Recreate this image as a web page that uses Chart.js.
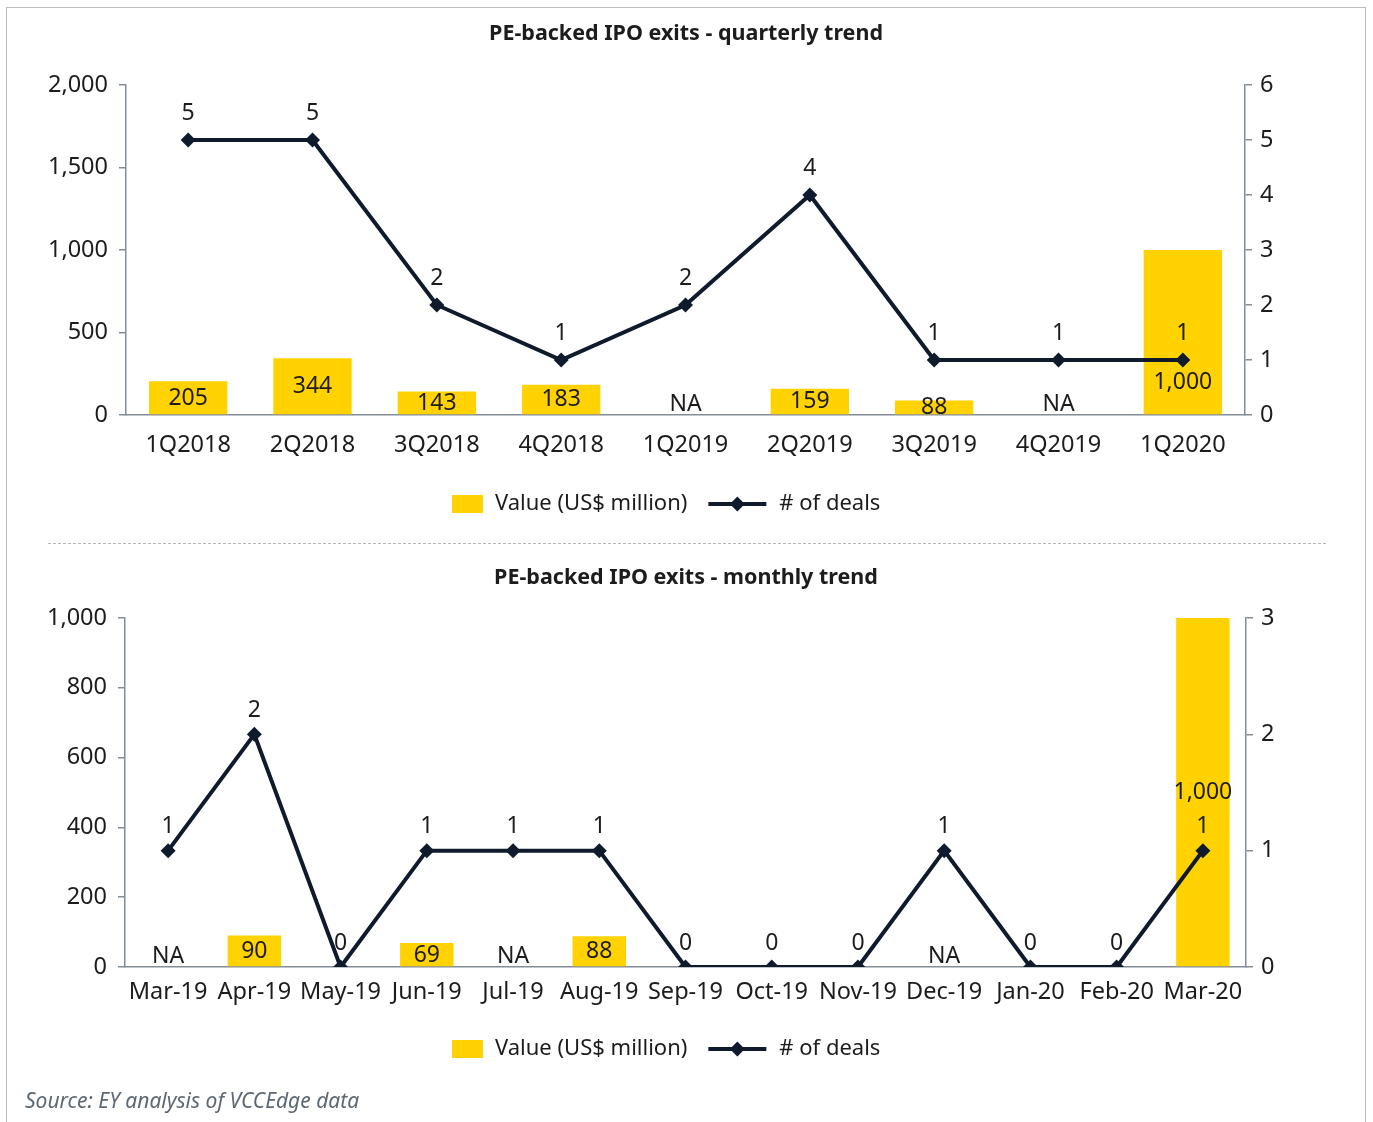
<!DOCTYPE html>
<html>
<head>
<meta charset="utf-8">
<title>PE-backed IPO exits</title>
<script src="https://cdn.jsdelivr.net/npm/chart.js@4.4.1/dist/chart.umd.min.js"></script>
<style>
  body { margin: 0; background: #fff; width: 1373px; height: 1122px; position: relative; overflow: hidden; font-family: 'Noto Sans', sans-serif; }
  .frame { position: absolute; left: 6px; top: 7px; width: 1358px; height: 1200px; border: 1.5px solid #b9bdc2; }
  .sep { position: absolute; left: 48px; top: 543px; width: 1278px; border-top: 1.5px dashed #b5b5b5; }
  .source { position: absolute; left: 25px; top: 1086px; font-style: italic; color: #5d6873; font-size: 21px; }
  #quarterly { position: absolute; left: 0; top: 0; }
  #monthly { position: absolute; left: 0; top: 548px; }
</style>
</head>
<body>
<div class="frame"></div>
<canvas id="quarterly" width="1373" height="540"></canvas>
<div class="sep"></div>
<canvas id="monthly" width="1373" height="540"></canvas>
<div class="source">Source: EY analysis of VCCEdge data</div>

<script>
// quarterly series
const quarters = ['1Q2018', '2Q2018', '3Q2018', '4Q2018', '1Q2019', '2Q2019', '3Q2019', '4Q2019', '1Q2020'];
const quarterValue = [205, 344, 143, 183, null, 159, 88, null, 1000];
const quarterDeals = [5, 5, 2, 1, 2, 4, 1, 1, 1];

// monthly series
const months = ['Mar-19', 'Apr-19', 'May-19', 'Jun-19', 'Jul-19', 'Aug-19', 'Sep-19', 'Oct-19', 'Nov-19', 'Dec-19', 'Jan-20', 'Feb-20', 'Mar-20'];
const monthValue = [null, 90, null, 69, null, 88, null, null, null, null, null, null, 1000];
const monthDeals = [1, 2, 0, 1, 1, 1, 0, 0, 0, 1, 0, 0, 1];

const YELLOW = '#FFD200';
const NAVY = '#0f1a2d';
const AXIS = '#838d97';
const TEXT = '#1c1c1c';
const FONT = "'Noto Sans', sans-serif";
const TICK_SIZE = 23.5;

// titles, legends and value labels drawn straight on the canvas
const decor = {
  id: 'decor',
  afterDatasetsDraw(chart, args, opts) {
    const ctx = chart.ctx;
    const xs = chart.scales.x, ys = chart.scales.y;
    const bars = chart.data.datasets[0].data;
    const deals = chart.data.datasets[1].data;
    const base = ys.getPixelForValue(0);
    ctx.save();
    ctx.fillStyle = TEXT;
    ctx.font = '23px ' + FONT;
    ctx.textAlign = 'center';
    ctx.textBaseline = 'middle';

    // bar values; a missing value with deals in the period reads NA
    bars.forEach((v, i) => {
      const x = xs.getPixelForValue(i);
      if (v === null) {
        if (deals[i] > 0) ctx.fillText('NA', x, base - 11);
        return;
      }
      const top = ys.getPixelForValue(v);
      let y = (top + base) / 2;
      if (opts.tallRise && base - top > 100) y = base - opts.tallRise;
      ctx.fillText(v.toLocaleString('en-US'), x, y);
    });

    // deal counts above the markers
    const lineMeta = chart.getDatasetMeta(1);
    lineMeta.data.forEach((pt, i) => {
      ctx.fillText(String(deals[i]), pt.x, pt.y - opts.pointRise);
    });
    ctx.restore();
  },
  afterDraw(chart, args, opts) {
    const ctx = chart.ctx;
    ctx.save();
    // title
    ctx.fillStyle = TEXT;
    ctx.font = 'bold 21.5px ' + FONT;
    ctx.textAlign = 'center';
    ctx.textBaseline = 'middle';
    ctx.fillText(opts.title, 686, opts.titleY);

    // legend
    const ly = opts.legendY;
    let x = opts.legendX;
    ctx.font = '22px ' + FONT;
    ctx.textAlign = 'left';
    const barLabel = chart.data.datasets[0].label;
    const lineLabel = chart.data.datasets[1].label;
    ctx.fillStyle = YELLOW;
    ctx.fillRect(x, ly - 9, 31, 18);
    x += 31 + 12;
    ctx.fillStyle = TEXT;
    ctx.fillText(barLabel, x, ly);
    x += ctx.measureText(barLabel).width + 21;
    ctx.strokeStyle = NAVY;
    ctx.lineWidth = 4;
    ctx.beginPath();
    ctx.moveTo(x, ly);
    ctx.lineTo(x + 58, ly);
    ctx.stroke();
    ctx.fillStyle = NAVY;
    ctx.beginPath();
    ctx.moveTo(x + 29 - 7.5, ly);
    ctx.lineTo(x + 29, ly - 7.5);
    ctx.lineTo(x + 29 + 7.5, ly);
    ctx.lineTo(x + 29, ly + 7.5);
    ctx.closePath();
    ctx.fill();
    x += 58 + 13;
    ctx.fillStyle = TEXT;
    ctx.fillText(lineLabel, x, ly);
    ctx.restore();
  }
};

function fixWidth(w) { return s => { s.width = w; }; }
function fixHeight(h) { return s => { s.height = h; }; }

function buildChart(id, cats, values, deals, cfg) {
  return new Chart(document.getElementById(id), {
    data: {
      labels: cats,
      datasets: [
        {
          type: 'bar',
          label: 'Value (US$ million)',
          data: values,
          yAxisID: 'y',
          backgroundColor: YELLOW,
          barPercentage: cfg.barPct,
          categoryPercentage: 1,
          order: 1
        },
        {
          type: 'line',
          label: '# of deals',
          data: deals,
          yAxisID: 'y1',
          borderColor: NAVY,
          borderWidth: 4,
          backgroundColor: NAVY,
          pointStyle: 'rectRot',
          pointRadius: 7.5,
          pointBorderWidth: 0,
          tension: 0,
          order: 0
        }
      ]
    },
    options: {
      responsive: false,
      devicePixelRatio: 1,
      animation: false,
      events: [],
      layout: { padding: cfg.padding },
      plugins: {
        legend: { display: false },
        tooltip: { enabled: false },
        title: { display: false },
        decor: cfg.decor
      },
      scales: {
        x: {
          afterFit: fixHeight(50),
          grid: { display: false, drawTicks: false },
          border: { display: true, color: AXIS, width: 1.5 },
          ticks: { color: TEXT, font: { family: FONT, size: TICK_SIZE }, padding: cfg.xPad, maxRotation: 0, autoSkip: false }
        },
        y: {
          position: 'left',
          min: 0, max: cfg.leftMax,
          afterFit: fixWidth(100),
          grid: { drawOnChartArea: false, drawTicks: true, tickLength: 7, color: AXIS, lineWidth: 1.5 },
          border: { display: true, color: AXIS, width: 1.5 },
          ticks: { stepSize: cfg.leftStep, color: TEXT, padding: 11, font: { family: FONT, size: TICK_SIZE },
                   callback: v => v.toLocaleString('en-US') }
        },
        y1: {
          position: 'right',
          min: 0, max: cfg.rightMax,
          afterFit: fixWidth(100),
          grid: { drawOnChartArea: false, drawTicks: true, tickLength: 7, color: AXIS, lineWidth: 1.5 },
          border: { display: true, color: AXIS, width: 1.5 },
          ticks: { stepSize: 1, color: TEXT, padding: 8, font: { family: FONT, size: TICK_SIZE } }
        }
      }
    },
    plugins: [decor]
  });
}

buildChart('quarterly', quarters, quarterValue, quarterDeals, {
  barPct: 0.63, xPad: 16,
  leftMax: 2000, leftStep: 500, rightMax: 6,
  padding: { left: 26, right: 28, top: 85, bottom: 75 },
  decor: { title: 'PE-backed IPO exits - quarterly trend', titleY: 34, legendX: 452, legendY: 504, pointRise: 27, tallRise: 33 }
});

buildChart('monthly', months, monthValue, monthDeals, {
  barPct: 0.62, xPad: 11,
  leftMax: 1000, leftStep: 200, rightMax: 3,
  padding: { left: 25, right: 27, top: 70, bottom: 71 },
  decor: { title: 'PE-backed IPO exits - monthly trend', titleY: 30, legendX: 452, legendY: 501, pointRise: 24, tallRise: 0 }
});
</script>
</body>
</html>
